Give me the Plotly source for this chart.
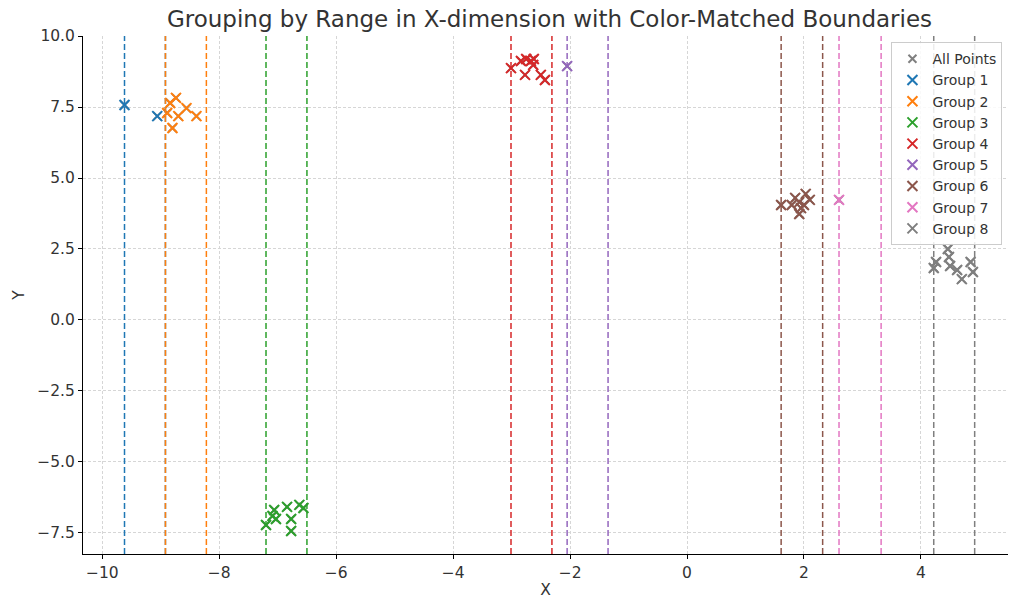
import plotly.graph_objects as go

# ---- data ----
group_names = ["Group 1", "Group 2", "Group 3", "Group 4", "Group 5", "Group 6", "Group 7", "Group 8"]
group_colors = ["#1f77b4", "#ff7f0e", "#2ca02c", "#d62728", "#9467bd", "#8c564b", "#e377c2", "#7f7f7f"]

g1_x = [-9.62, -9.06]
g1_y = [7.57, 7.18]
g2_x = [-8.84, -8.74, -8.56, -8.39, -8.70, -8.80, -8.89]
g2_y = [7.64, 7.82, 7.46, 7.18, 7.18, 6.76, 7.29]
g3_x = [-7.20, -7.09, -7.06, -7.03, -6.84, -6.77, -6.77, -6.63, -6.56]
g3_y = [-7.22, -6.90, -6.69, -7.01, -6.58, -7.01, -7.43, -6.51, -6.62]
g4_x = [-3.01, -2.84, -2.75, -2.67, -2.62, -2.77, -2.63, -2.50, -2.43]
g4_y = [8.87, 9.12, 9.19, 9.12, 9.19, 8.63, 8.98, 8.63, 8.45]
g5_x = [-2.05]
g5_y = [8.94]
g6_x = [1.61, 1.85, 1.92, 1.95, 1.92, 2.03, 2.10, 2.00, 1.79]
g6_y = [4.05, 4.30, 4.15, 3.94, 3.73, 4.44, 4.23, 4.05, 4.05]
g7_x = [2.60]
g7_y = [4.23]
g8_x = [4.22, 4.26, 4.46, 4.48, 4.50, 4.62, 4.70, 4.85, 4.89]
g8_y = [1.83, 2.04, 2.50, 2.22, 1.90, 1.76, 1.44, 2.04, 1.69]

groups_x = [g1_x, g2_x, g3_x, g4_x, g5_x, g6_x, g7_x, g8_x]
groups_y = [g1_y, g2_y, g3_y, g4_y, g5_y, g6_y, g7_y, g8_y]

# range boundaries (start, end) per group
bound_lo = [-9.62, -8.92, -7.20, -3.01, -2.05, 1.61, 2.60, 4.22]
bound_hi = [-8.92, -8.22, -6.50, -2.31, -1.35, 2.32, 3.32, 4.92]

all_x = [v for g in groups_x for v in g]
all_y = [v for g in groups_y for v in g]

FONT = "DejaVu Sans, Verdana, sans-serif"
TXT = "#333333"

fig = go.Figure()
fig.add_trace(go.Scatter(
    x=all_x, y=all_y, mode="markers", name="All Points",
    marker=dict(symbol="x-thin", size=8, line=dict(width=2, color="#808080"), color="#808080"),
))
for name, col, gx, gy in zip(group_names, group_colors, groups_x, groups_y):
    fig.add_trace(go.Scatter(
        x=gx, y=gy, mode="markers", name=name,
        marker=dict(symbol="x-thin", size=10, line=dict(width=2, color=col), color=col),
    ))

for col, lo, hi in zip(group_colors, bound_lo, bound_hi):
    for xv in (lo, hi):
        fig.add_shape(type="line", xref="x", yref="paper", x0=xv, x1=xv, y0=0, y1=1,
                      line=dict(color=col, width=1.5, dash="6px,3px"), layer="above")

fig.update_layout(
    width=1009, height=599,
    margin=dict(l=83, r=1, t=36, b=45),
    paper_bgcolor="white", plot_bgcolor="white",
    font=dict(family=FONT, size=15.5, color=TXT),
    title=dict(text="Grouping by Range in X-dimension with Color-Matched Boundaries",
               x=0.5446, xanchor="center", y=0.968, yanchor="middle",
               font=dict(size=23, family=FONT, color=TXT)),
    legend=dict(x=0.874, y=0.988, xanchor="left", yanchor="top",
                bgcolor="rgba(255,255,255,0.85)", bordercolor="#cccccc", borderwidth=1,
                font=dict(size=14, family=FONT, color=TXT),
                itemwidth=30),
    showlegend=True,
)
fig.update_xaxes(
    range=[-10.33, 5.49], dtick=2, tick0=0, showgrid=True, gridcolor="#d6d6d6", griddash="3px,2px",
    gridwidth=0.8, zeroline=False, showline=True, linecolor="black", linewidth=1,
    ticks="outside", ticklen=4, tickcolor="black", mirror=False,
    title=dict(text="X", font=dict(size=15.5, family=FONT, color=TXT), standoff=4),
    tickfont=dict(size=15.5, family=FONT, color=TXT),
)
fig.update_yaxes(
    range=[-8.24, 10.0], dtick=2.5, tick0=0, tickformat=".1f", showgrid=True, gridcolor="#d6d6d6",
    griddash="3px,2px", gridwidth=0.8, zeroline=False, showline=True, linecolor="black", linewidth=1,
    ticks="outside", ticklen=4, tickcolor="black", mirror=False,
    title=dict(text="Y", font=dict(size=15.5, family=FONT, color=TXT), standoff=8),
    tickfont=dict(size=15.5, family=FONT, color=TXT),
)

fig.write_html("out.html")
